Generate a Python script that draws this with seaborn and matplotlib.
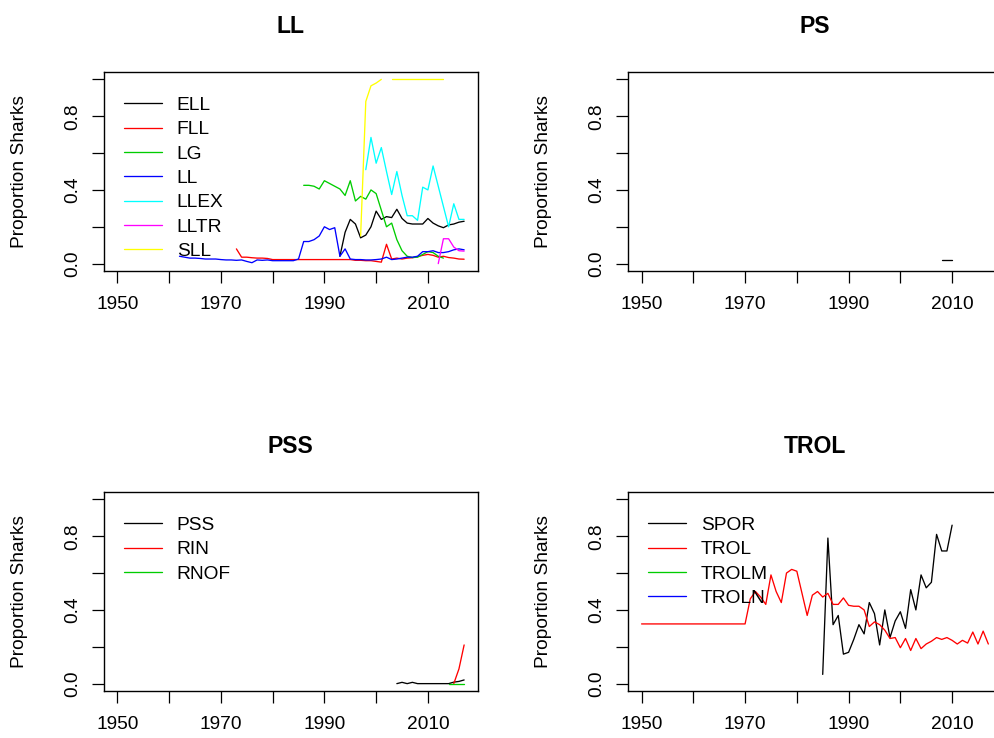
import numpy as np
import pandas as pd
import matplotlib
matplotlib.use("Agg")
import matplotlib.pyplot as plt
from matplotlib.lines import Line2D
import seaborn as sns

# ---------------- data ----------------
NAN = float("nan")

# Panel LL
ELL_years = list(range(1993, 2018))
ELL = [0.04, 0.17, 0.24, 0.215, 0.14, 0.155, 0.20, 0.285, 0.24, 0.255,
       0.25, 0.295, 0.245, 0.22, 0.215, 0.215, 0.215, 0.245, 0.22, 0.205,
       0.195, 0.21, 0.215, 0.225, 0.23]

FLL_years = list(range(1973, 2018))
FLL = [0.08, 0.035, 0.035, 0.032, 0.03, 0.03, 0.028, 0.022, 0.022, 0.022,
       0.022, 0.022, 0.022, 0.022, 0.022, 0.022, 0.022, 0.022, 0.022, 0.022,
       0.022, 0.022, 0.022, 0.018, 0.018, 0.016, 0.016, 0.012, 0.008, 0.105,
       0.025, 0.03, 0.025, 0.03, 0.032, 0.038, 0.045, 0.05, 0.045, 0.035,
       0.04, 0.033, 0.03, 0.025, 0.024]

LG_years = list(range(1986, 2014))
LG = [0.425, 0.425, 0.42, 0.405, 0.45, 0.435, 0.42, 0.405, 0.37, 0.45,
      0.34, 0.365, 0.35, 0.40, 0.38, 0.29, 0.20, 0.22, 0.13, 0.07,
      0.04, 0.033, 0.035, 0.05, 0.065, 0.06, 0.04, 0.03]

LL_years = list(range(1962, 2018))
LL = [0.04, 0.035, 0.03, 0.03, 0.028, 0.025, 0.025, 0.025, 0.022, 0.02,
      0.02, 0.018, 0.02, 0.012, 0.005, 0.02, 0.018, 0.02, 0.016, 0.016,
      0.016, 0.016, 0.016, 0.025, 0.12, 0.12, 0.13, 0.15, 0.20, 0.185,
      0.195, 0.04, 0.08, 0.025, 0.022, 0.022, 0.02, 0.02, 0.022, 0.025,
      0.035, 0.022, 0.025, 0.03, 0.035, 0.035, 0.04, 0.065, 0.065, 0.07,
      0.06, 0.06, 0.065, 0.075, 0.08, 0.075]

LLEX_years = list(range(1998, 2018))
LLEX = [0.51, 0.685, 0.545, 0.63, 0.50, 0.375, 0.50, 0.37, 0.26, 0.26,
        0.235, 0.415, 0.40, 0.53, 0.42, 0.31, 0.20, 0.325, 0.24, 0.24]

LLTR_years = list(range(2012, 2018))
LLTR = [0.0, 0.135, 0.135, 0.09, 0.07, 0.068]

SLL_years = list(range(1997, 2014))
SLL = [0.15, 0.88, 0.965, 0.98, 1.0, NAN, 1.0, 1.0, 1.0, 1.0,
       1.0, 1.0, 1.0, 1.0, 1.0, 1.0, 1.0]

# Panel PS
PS_years = [2008, 2009, 2010]
PS = [0.02, 0.02, 0.02]

# Panel PSS
PSS_years = list(range(2004, 2018))
PSS = [0.0, 0.007, 0.0, 0.007, 0.0, 0.0, 0.0, 0.0, 0.0, 0.0,
       0.0, 0.008, 0.012, 0.02]
RIN_years = [2015, 2016, 2017]
RIN = [0.0, 0.08, 0.21]
RNOF_years = [2014, 2015, 2016, 2017]
RNOF = [0.0, 0.0, 0.0, 0.0]

# Panel TROL
SPOR_years = list(range(1985, 2011))
SPOR = [0.05, 0.79, 0.32, 0.37, 0.16, 0.17, 0.24, 0.32, 0.27, 0.44,
        0.38, 0.21, 0.40, 0.25, 0.34, 0.39, 0.30, 0.51, 0.40, 0.59,
        0.52, 0.55, 0.81, 0.72, 0.72, 0.86]
TROL_years = list(range(1950, 2018))
TROL = [0.324, 0.324, 0.324, 0.324, 0.324, 0.324, 0.324, 0.324, 0.324, 0.324,
        0.324, 0.324, 0.324, 0.324, 0.324, 0.324, 0.324, 0.324, 0.324, 0.324,
        0.324,
        0.46, 0.50, 0.47, 0.43, 0.59, 0.50, 0.44, 0.60, 0.62, 0.61,
        0.49, 0.37, 0.48, 0.50, 0.47, 0.49, 0.43, 0.43, 0.465, 0.425,
        0.42, 0.42, 0.40, 0.31, 0.335, 0.32, 0.29, 0.245, 0.25, 0.195,
        0.245, 0.18, 0.245, 0.19, 0.215, 0.23, 0.25, 0.24, 0.25, 0.235,
        0.215, 0.235, 0.22, 0.28, 0.215, 0.285, 0.215]
TROLM_years = []
TROLM = []
TROLN_years = []
TROLN = []

x_ticks = [1950, 1960, 1970, 1980, 1990, 2000, 2010]
x_labels = ["1950", "", "1970", "", "1990", "", "2010"]
y_ticks = [0.0, 0.2, 0.4, 0.6, 0.8, 1.0]
y_labels = ["0.0", "", "0.4", "", "0.8", ""]

# ---------------- style ----------------
sns.set_style("white")
plt.rcParams["font.family"] = ["Liberation Sans", "DejaVu Sans"]
plt.rcParams["text.color"] = "black"
plt.rcParams["axes.labelcolor"] = "black"

R_COLORS = ["#000000", "#FF0000", "#00CD00", "#0000FF", "#00FFFF", "#FF00FF", "#FFFF00"]
LW = 0.95
FS = 13.8
FS_TITLE = 16.6

fig = plt.figure(figsize=(9.94, 7.38), dpi=100)
W = 374.5 / 994
H = 199 / 738
panels = [
    ("LL", (103.5 / 994, 1 - 271 / 738, W, H),
     [("ELL", ELL_years, ELL), ("FLL", FLL_years, FLL), ("LG", LG_years, LG),
      ("LL", LL_years, LL), ("LLEX", LLEX_years, LLEX), ("LLTR", LLTR_years, LLTR),
      ("SLL", SLL_years, SLL)], True),
    ("PS", (627.7 / 994, 1 - 271 / 738, W, H),
     [("PS", PS_years, PS)], False),
    ("PSS", (103.5 / 994, 1 - 691 / 738, W, H),
     [("PSS", PSS_years, PSS), ("RIN", RIN_years, RIN), ("RNOF", RNOF_years, RNOF)], True),
    ("TROL", (627.7 / 994, 1 - 691 / 738, W, H),
     [("SPOR", SPOR_years, SPOR), ("TROL", TROL_years, TROL),
      ("TROLM", TROLM_years, TROLM), ("TROLN", TROLN_years, TROLN)], True),
]

for title, pos, series, show_leg in panels:
    ax = fig.add_axes(pos)
    names = [s[0] for s in series]
    palette = {n: R_COLORS[i] for i, n in enumerate(names)}
    rows = []
    for name, yrs, vals in series:
        seg = 0
        for yv, v in zip(yrs, vals):
            if v is None or np.isnan(v):
                seg += 1
                continue
            rows.append((name, f"{name}_{seg}", yv, v))
    df = pd.DataFrame(rows, columns=["gear", "seg", "year", "prop"])
    present = [n for n in names if n in set(df["gear"])]
    sns.lineplot(data=df, x="year", y="prop", hue="gear", units="seg",
                 estimator=None, hue_order=present,
                 palette={n: palette[n] for n in present},
                 legend=False, linewidth=LW, ax=ax)

    ax.set_xlim(1947.32, 2019.68)
    ax.set_ylim(-0.04, 1.04)
    ax.set_xticks(x_ticks)
    ax.set_xticklabels(x_labels)
    ax.set_yticks(y_ticks)
    ax.set_yticklabels(y_labels)
    ax.tick_params(direction="out", length=8.6, width=0.9, color="black",
                   labelsize=FS, labelcolor="black", bottom=True, left=True)
    ax.tick_params(axis="x", pad=9.6)
    ax.tick_params(axis="y", pad=7.6, labelrotation=90)
    for lab in ax.get_yticklabels():
        lab.set_va("center")
    for s in ax.spines.values():
        s.set_visible(True)
        s.set_color("black")
        s.set_linewidth(1.0)
    ax.set_xlabel("")
    ax.set_ylabel("Proportion Sharks", fontsize=FS, color="black")
    ax.yaxis.set_label_coords(-0.2016, 0.5)
    ax.set_title(title, fontsize=FS_TITLE, fontweight="bold", pad=27.9, color="black")

    if show_leg:
        handles = [Line2D([0], [0], color=palette[n], lw=LW) for n in names]
        ax.legend(handles, names, loc="upper left", bbox_to_anchor=(0.0555, 0.876),
                  frameon=False, borderpad=0, borderaxespad=0,
                  handlelength=1.95, handletextpad=0.79, labelspacing=0.36,
                  fontsize=FS, labelcolor="black")

fig.savefig("out.png", dpi=100)
